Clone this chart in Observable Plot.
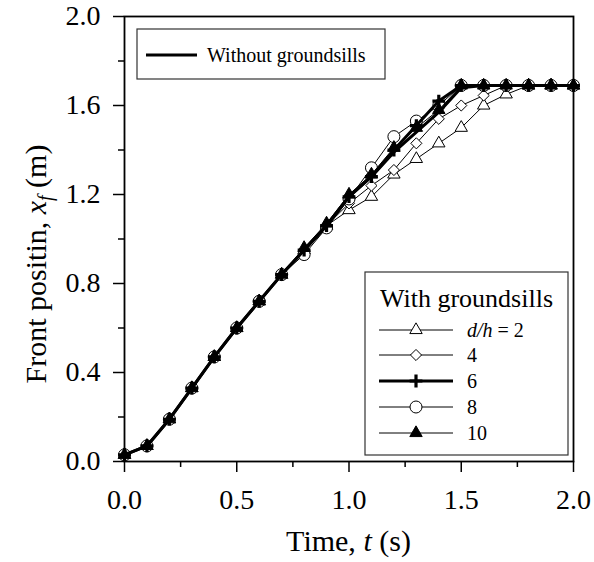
<!DOCTYPE html>
<html><head><meta charset="utf-8">
<script src="https://cdn.jsdelivr.net/npm/d3@7"></script>
<script src="https://cdn.jsdelivr.net/npm/@observablehq/plot@0.6"></script>
<style>body{margin:0;background:#fff}</style>
</head><body><div id="chart"></div>
<script>
// ---- data ----
const time    = [0.0,0.1,0.2,0.3,0.4,0.5,0.6,0.7,0.8,0.9,1.0,1.1,1.2,1.3,1.4,1.5,1.6,1.7,1.8,1.9,2.0];
const without = [0.03,0.07,0.19,0.33,0.47,0.60,0.72,0.84,0.95,1.06,1.19,1.28,1.39,1.48,1.57,1.68,1.69,1.69,1.69,1.69,1.69];
const dh2     = [0.03,0.07,0.19,0.33,0.47,0.60,0.72,0.84,0.95,1.06,1.13,1.19,1.29,1.36,1.43,1.50,1.60,1.65,1.69,1.69,1.69];
const dh4     = [0.03,0.07,0.19,0.33,0.47,0.60,0.72,0.84,0.95,1.06,1.16,1.24,1.31,1.43,1.54,1.60,1.645,1.69,1.69,1.69,1.69];
const dh6     = [0.03,0.07,0.19,0.33,0.47,0.60,0.72,0.84,0.95,1.06,1.19,1.28,1.40,1.51,1.62,1.69,1.69,1.69,1.69,1.69,1.69];
const dh8     = [0.03,0.07,0.19,0.33,0.47,0.60,0.72,0.84,0.93,1.05,1.18,1.32,1.46,1.53,1.60,1.69,1.69,1.69,1.69,1.69,1.69];
const dh10    = [0.03,0.07,0.19,0.33,0.47,0.60,0.72,0.84,0.96,1.07,1.20,1.29,1.41,1.50,1.58,1.69,1.69,1.69,1.69,1.69,1.69];
const xMajor = [0,0.5,1.0,1.5,2.0];
const xMinor = [0.25,0.75,1.25,1.75];
const yMajor = [0,0.4,0.8,1.2,1.6,2.0];
const yMinor = [0.2,0.6,1.0,1.4,1.8];
const legendLabels = ["2","4","6","8","10"];

// ---- styles ----
const series = [
  {label:"2",  values:dh2,  symbol:"triangle", d3sym:d3.symbolTriangle, r:4.6, fill:"white", lw:1, sw:1},
  {label:"4",  values:dh4,  symbol:"diamond2", d3sym:d3.symbolDiamond2, r:5,   fill:"white", lw:1, sw:1},
  {label:"8",  values:dh8,  symbol:"circle",   d3sym:d3.symbolCircle,   r:6,   fill:"white", lw:1, sw:1},
  {label:"10", values:dh10, symbol:"triangle", d3sym:d3.symbolTriangle, r:4.6, fill:"black", lw:1, sw:1},
  {label:"6",  values:dh6,  symbol:"plus",     d3sym:d3.symbolPlus,     r:4.2, fill:"none",  lw:3, sw:3.2}
];
const rows = (vals) => time.map((t, i) => ({t, v: vals[i]}));

const marks = [];
for (const s of series.slice(0, 3)) {
  marks.push(Plot.line(rows(s.values), {x:"t", y:"v", stroke:"black", strokeWidth:s.lw}));
  marks.push(Plot.dot(rows(s.values), {x:"t", y:"v", symbol:s.symbol, r:s.r, fill:s.fill, stroke:"black", strokeWidth:s.sw}));
}
marks.push(Plot.line(rows(without), {x:"t", y:"v", stroke:"black", strokeWidth:3}));
for (const s of series.slice(3)) {
  marks.push(Plot.line(rows(s.values), {x:"t", y:"v", stroke:"black", strokeWidth:s.lw}));
  marks.push(Plot.dot(rows(s.values), {x:"t", y:"v", symbol:s.symbol, r:s.r, fill:s.fill, stroke:"black", strokeWidth:s.sw}));
}

const ff = "Liberation Serif, DejaVu Serif, Noto Serif, Times New Roman, serif";

const svgEl = Plot.plot({
  width:594, height:562,
  marginLeft:124, marginRight:21, marginTop:16, marginBottom:101,
  x:{domain:[0,2]}, y:{domain:[0,2]},
  style:{fontFamily:ff, fontSize:"28px", color:"black", background:"white"},
  marks:[
    Plot.axisX({ticks:xMajor, tickSize:11, tickPadding:17, tickFormat:d=>d.toFixed(1), label:null, strokeWidth:1.5}),
    Plot.axisX({ticks:xMinor, tickSize:6, tickFormat:()=>"", label:null, strokeWidth:1.5}),
    Plot.axisY({ticks:yMajor, tickSize:11, tickPadding:13, tickFormat:d=>d.toFixed(1), label:null, strokeWidth:1.5}),
    Plot.axisY({ticks:yMinor, tickSize:6, tickFormat:()=>"", label:null, strokeWidth:1.5}),
    ...marks,
    Plot.frame({stroke:"black", strokeWidth:1.8})
  ]
});
document.getElementById("chart").appendChild(svgEl);

const svg = d3.select(svgEl);

// axis titles
const xt = svg.append("text").attr("x", 348.5).attr("y", 551).attr("text-anchor","middle")
  .attr("font-family", ff).attr("font-size", 30).attr("fill","black");
xt.append("tspan").text("Time, ");
xt.append("tspan").attr("font-style","italic").text("t");
xt.append("tspan").text(" (s)");

const yt = svg.append("text").attr("transform","translate(46,264) rotate(-90)").attr("text-anchor","middle")
  .attr("font-family", ff).attr("font-size", 30).attr("fill","black");
yt.append("tspan").text("Front positin, ");
yt.append("tspan").attr("font-style","italic").text("x");
yt.append("tspan").attr("font-style","italic").attr("font-size", 20).attr("dy", 6).text("f");
yt.append("tspan").attr("dy", -6).text(" (m)");

// legend 1
const l1 = svg.append("g");
l1.append("rect").attr("x",137).attr("y",29).attr("width",248).attr("height",50)
  .attr("fill","white").attr("stroke","#333").attr("stroke-width",1.2);
l1.append("line").attr("x1",146).attr("x2",197).attr("y1",55).attr("y2",55).attr("stroke","black").attr("stroke-width",3);
l1.append("text").attr("x",207).attr("y",62).attr("text-anchor","start")
  .attr("font-family",ff).attr("font-size",20).attr("fill","black").text("Without groundsills");

// legend 2
const l2 = svg.append("g");
l2.append("rect").attr("x",365).attr("y",272).attr("width",203).attr("height",183)
  .attr("fill","white").attr("stroke","#333").attr("stroke-width",1.2);
l2.append("text").attr("x",466.5).attr("y",307).attr("text-anchor","middle")
  .attr("font-family",ff).attr("font-size",26).attr("fill","black").text("With groundsills");
const order = ["2","4","6","8","10"];
const ys = [330,355,381,407,433];
order.forEach((lab, i) => {
  const s = series.find(d => d.label === lab);
  const y = ys[i];
  l2.append("line").attr("x1",379).attr("x2",453).attr("y1",y).attr("y2",y).attr("stroke","black").attr("stroke-width",s.lw);
  l2.append("path").attr("transform",`translate(416,${y})`)
    .attr("d", d3.symbol(s.d3sym, Math.PI*s.r*s.r)())
    .attr("fill", s.fill).attr("stroke","black").attr("stroke-width",s.sw);
  const t = l2.append("text").attr("x",467).attr("y",y+7).attr("text-anchor","start")
    .attr("font-family",ff).attr("font-size",20).attr("fill","black");
  if (i === 0) {
    t.append("tspan").attr("font-style","italic").text("d/h");
    t.append("tspan").text(" = " + legendLabels[i]);
  } else {
    t.text(legendLabels[i]);
  }
});
</script>
</body></html>
